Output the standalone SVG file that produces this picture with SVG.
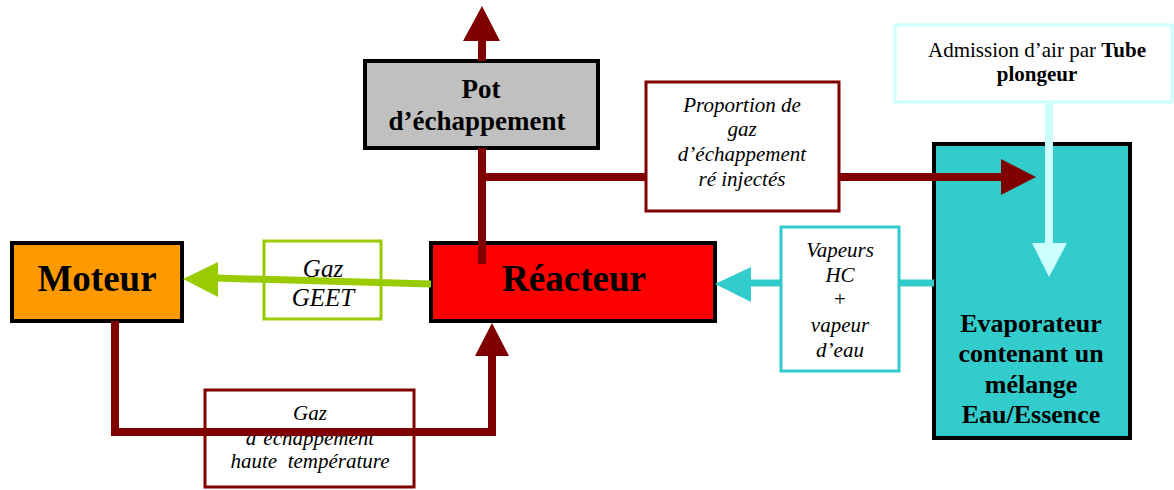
<svg xmlns="http://www.w3.org/2000/svg" width="1174" height="490" viewBox="0 0 1174 490">
  <style>
    .node { stroke: #000; stroke-width: 4; }
    .lbl { fill: #fff; stroke-width: 3; }
    .t { font-family: "Liberation Serif", "Times New Roman", serif; fill: #000; text-anchor: middle; }
    .b { font-weight: bold; }
    .i { font-style: italic; }
    .dr { stroke: #800000; stroke-width: 8; fill: none; }
    .cy { stroke: #33CCCC; stroke-width: 7; fill: none; }
    .lc { stroke: #CCFFFF; stroke-width: 8; fill: none; }
    .gr { stroke: #99CC00; stroke-width: 7; fill: none; }
  </style>

  <!-- Label boxes sitting under their connectors -->
  <g id="label-geet">
    <rect class="lbl" x="264" y="241" width="117" height="78" stroke="#99CC00"/>
    <text class="t i" x="323" y="277" font-size="25">Gaz</text>
    <text class="t i" x="323" y="306" font-size="25">GEET</text>
  </g>
  <g id="label-echappement-chaud">
    <rect class="lbl" x="205" y="390" width="209" height="97" stroke="#800000"/>
    <text class="t i" x="310" y="420" font-size="21">Gaz</text>
    <text class="t i" x="310" y="445" font-size="21">d’échappement</text>
    <text class="t i" x="310" y="468" font-size="21" xml:space="preserve">haute  température</text>
  </g>

  <!-- Nodes -->
  <g id="moteur">
    <rect class="node" x="12" y="243" width="170" height="78" fill="#FF9900"/>
    <text class="t b" x="97" y="291" font-size="37">Moteur</text>
  </g>
  <g id="reacteur">
    <rect class="node" x="431" y="243" width="284" height="78" fill="#FF0000"/>
    <text class="t b" x="574" y="291" font-size="37">Réacteur</text>
  </g>
  <g id="pot">
    <rect class="node" x="365" y="61" width="233" height="87" fill="#C0C0C0"/>
    <text class="t b" x="481" y="98" font-size="27">Pot</text>
    <text class="t b" x="477" y="130" font-size="27">d’échappement</text>
  </g>
  <g id="evaporateur">
    <rect class="node" x="934" y="144" width="196" height="294" fill="#33CCCC"/>
    <text class="t b" x="1031" y="332" font-size="26">Evaporateur</text>
    <text class="t b" x="1031" y="362" font-size="26">contenant un</text>
    <text class="t b" x="1031" y="393" font-size="26">mélange</text>
    <text class="t b" x="1031" y="423" font-size="26">Eau/Essence</text>
  </g>
  <g id="admission">
    <rect class="lbl" x="895" y="25" width="277" height="77" stroke="#CCFFFF" stroke-width="4"/>
    <text class="t" x="1037" y="57" font-size="21">Admission d’air par <tspan class="b">Tube</tspan></text>
    <text class="t b" x="1037" y="81" font-size="21">plongeur</text>
  </g>
  <g id="label-reinjection">
    <rect class="lbl" x="646" y="82" width="193" height="129" stroke="#800000"/>
    <text class="t i" x="742" y="112" font-size="21">Proportion de</text>
    <text class="t i" x="742" y="136" font-size="21">gaz</text>
    <text class="t i" x="742" y="161" font-size="21">d’échappement</text>
    <text class="t i" x="742" y="186" font-size="21">ré injectés</text>
  </g>
  <g id="label-vapeurs">
    <rect class="lbl" x="781" y="227" width="118" height="144" stroke="#33CCCC"/>
    <text class="t i" x="840" y="257" font-size="21">Vapeurs</text>
    <text class="t i" x="840" y="282" font-size="21">HC</text>
    <text class="t" x="840" y="306" font-size="21">+</text>
    <text class="t i" x="840" y="332" font-size="21">vapeur</text>
    <text class="t i" x="840" y="357" font-size="21">d’eau</text>
  </g>

  <!-- Connectors -->
  <g id="connectors">
    <!-- reactor gas to engine -->
    <path class="gr" d="M431 284 L215 278"/>
    <polygon points="183,279 218,262 218,297" fill="#99CC00"/>

    <!-- hot exhaust from engine back to reactor -->
    <path class="dr" d="M115 321 V432 H492 V353"/>
    <polygon points="492,323 475,356 509,356" fill="#800000"/>

    <!-- reactor to exhaust pot, and out -->
    <path class="dr" d="M482 264 V148"/>
    <path class="dr" d="M482 61 V39"/>
    <polygon points="482,6 463,41 500,41" fill="#800000"/>

    <!-- partial exhaust reinjection into evaporator -->
    <path class="dr" d="M482 177 H646"/>
    <path class="dr" d="M839 177 H1003"/>
    <polygon points="1036,177 1001,159 1001,195" fill="#800000"/>

    <!-- air intake dip tube -->
    <path class="lc" d="M1049 102 V245"/>
    <polygon points="1049,277 1032,243 1067,243" fill="#CCFFFF"/>

    <!-- vapours from evaporator to reactor -->
    <path class="cy" d="M934 283 H899"/>
    <path class="cy" d="M781 283 H749"/>
    <polygon points="715,284 751,267 751,302" fill="#33CCCC"/>
  </g>
</svg>
